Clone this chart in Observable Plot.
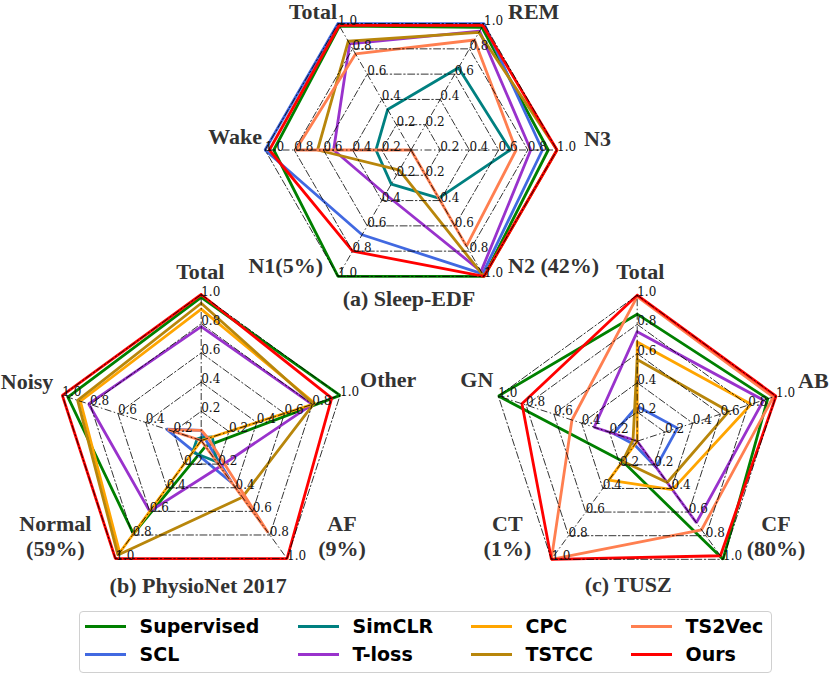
<!DOCTYPE html>
<html><head><meta charset="utf-8">
<script src="https://cdn.jsdelivr.net/npm/d3@7"></script>
<script src="https://cdn.jsdelivr.net/npm/@observablehq/plot@0.6"></script>
<style>
body{margin:0;background:#fff;}
#fig{position:relative;width:831px;height:677px;overflow:hidden;}
#fig svg{position:absolute;left:0;top:0;}
#legend{position:absolute;left:79px;top:611px;width:693px;height:62px;border:1.5px solid #d0d0d0;border-radius:4px;box-sizing:border-box;}
.li{position:absolute;height:3px;}
.lt{position:absolute;font:bold 19px "DejaVu Sans";color:#000;line-height:19px;white-space:nowrap;}
</style>
</head><body><div id="fig"><div id="legend"></div></div>
<script>
// ---------------- data ----------------
const methods = ["Supervised","SCL","SimCLR","T-loss","CPC","TSTCC","TS2Vec","Ours"];
const colors  = ["#008000","#4169e1","#008080","#9932cc","#ffa500","#b8860b","#ff7f50","#ff0000"];
const ticks = [0.2, 0.4, 0.6, 0.8, 1.0];
const tickLabels = ["0.2","0.4","0.6","0.8","1.0"];

// (a) Sleep-EDF
const sleepAxes = ["Total","REM","N3","N2 (42%)","N1(5%)","Wake"];
const sleepSupervised = [0.98, 0.97, 0.94, 1.00, 1.00, 0.94];
const sleepSCL        = [1.00, 1.00, 0.90, 0.98, 0.67, 1.00];
const sleepSimCLR     = [0.32, 0.65, 0.68, 0.38, 0.27, 0.24];
const sleepTloss      = [0.84, 0.94, 0.82, 0.96, 0.35, 0.53];
const sleepCPC        = null;
const sleepTSTCC      = [0.86, 0.93, 1.00, 1.00, 0.16, 0.64];
const sleepTS2Vec     = [0.76, 0.87, 0.72, 0.76, 0.00, 0.79];
const sleepOurs       = [0.985, 0.985, 1.00, 1.00, 0.80, 0.97];

// (b) PhysioNet 2017
const physioAxes = ["Total","Other","AF\n(9%)","Normal\n(59%)","Noisy"];
const physioSupervised = [0.98, 1.00, 0.05, 0.79, 0.96];
const physioSCL        = [0.07, 0.03, 0.36, 0.09, 0.25];
const physioSimCLR     = [0.02, 0.08, 0.18, 0.10, 0.03];
const physioTloss      = [0.78, 0.80, 0.22, 0.60, 0.81];
const physioCPC        = [0.90, 0.82, 0.00, 0.95, 0.87];
const physioTSTCC      = [0.94, 0.81, 0.48, 0.97, 0.89];
const physioTS2Vec     = [0.07, 0.05, 0.78, 0.00, 0.24];
const physioOurs       = [1.00, 0.94, 1.00, 1.00, 1.00];

// (c) TUSZ
const tuszAxes = ["Total","AB","CF\n(80%)","CT\n(1%)","GN"];
const tuszSupervised = [0.87, 0.94, 1.00, 0.17, 1.00];
const tuszSCL        = [0.24, 0.29, 0.22, 0.03, 0.17];
const tuszSimCLR     = null;
const tuszTloss      = [0.75, 0.91, 0.69, 0.00, 0.31];
const tuszCPC        = [0.68, 0.82, 0.41, 0.33, 0.00];
const tuszTSTCC      = [0.56, 0.66, 0.35, 0.17, 0.03];
const tuszTS2Vec     = [0.99, 0.98, 0.75, 1.00, 0.47];
const tuszOurs       = [1.00, 1.00, 0.97, 1.00, 0.83];

// ---------------- layout ----------------
const R = 146, FIG_W = 831, FIG_H = 600;
const dash = "7,2.5,1.5,2.5";
const charts = [
  {title:"(a) Sleep-EDF", axes:sleepAxes, start:120,
   series:[sleepSupervised,sleepSCL,sleepSimCLR,sleepTloss,sleepCPC,sleepTSTCC,sleepTS2Vec,sleepOurs],
   cx:410.5, cy:149.5, titleOff:[-2,155.5],
   labels:[["end",-1,-5],["start",24,-5],["start",27,-4],["start",24,-3],["end",-15,-3],["end",-3,-6]]},
  {title:"(b) PhysioNet 2017", axes:physioAxes, start:90,
   series:[physioSupervised,physioSCL,physioSimCLR,physioTloss,physioCPC,physioTSTCC,physioTS2Vec,physioOurs],
   cx:200.7, cy:440, titleOff:[-3,152],
   labels:[["middle",-1,-16],["start",20,-8],["middle",55,-3],["middle",-60,-3],["end",-9,-6]]},
  {title:"(c) TUSZ", axes:tuszAxes, start:90,
   series:[tuszSupervised,tuszSCL,tuszSimCLR,tuszTloss,tuszCPC,tuszTSTCC,tuszTS2Vec,tuszOurs],
   cx:636.7, cy:440.7, titleOff:[-9,151],
   labels:[["middle",3,-16],["start",22,-8],["middle",53,-3],["middle",-44,-3],["end",-5,-9]]}
];

const fig = document.getElementById("fig");

charts.forEach(cfg => {
  const n = cfg.axes.length;
  const ang = cfg.axes.map((_, i) => (cfg.start - i * 360 / n) * Math.PI / 180);
  const rows = [];
  cfg.series.forEach((vals, k) => {
    if (!vals) return;
    for (let i = 0; i <= n; i++) {
      const j = i % n;
      rows.push({method: methods[k], x: vals[j] * Math.cos(ang[j]), y: vals[j] * Math.sin(ang[j])});
    }
  });
  const rings = [];
  ticks.forEach(t => { for (let i = 0; i <= n; i++) { const j = i % n; rings.push({level: t, x: t * Math.cos(ang[j]), y: t * Math.sin(ang[j])}); } });
  const spokes = ang.map(a => ({x: Math.cos(a), y: Math.sin(a)}));
  const tickRows = [];
  ticks.forEach((t, ti) => ang.forEach(a => tickRows.push({x: t * Math.cos(a), y: t * Math.sin(a), label: tickLabels[ti]})));

  const marks = [
    Plot.line(rows, {x: "x", y: "y", z: "method", stroke: "method", strokeWidth: 2.8, strokeLinejoin: "miter"}),
    Plot.line(rings, {x: "x", y: "y", z: "level", stroke: "#000", strokeWidth: 0.8, strokeDasharray: dash}),
    Plot.link(spokes, {x1: 0, y1: 0, x2: "x", y2: "y", stroke: "#000", strokeWidth: 0.8, strokeDasharray: dash}),
    Plot.text(tickRows, {x: "x", y: "y", text: "label", textAnchor: "start", lineAnchor: "bottom", dy: 1,
      fontFamily: "DejaVu Serif", fontSize: 12, fill: "#111"})
  ];
  cfg.axes.forEach((lab, i) => {
    const [anchor, dx, dy] = cfg.labels[i];
    marks.push(Plot.text([{x: Math.cos(ang[i]), y: Math.sin(ang[i]), t: lab}], {
      x: "x", y: "y", text: "t", textAnchor: anchor, lineAnchor: "bottom", dx, dy, lineHeight: 1.14,
      fontFamily: "Liberation Serif", fontSize: 22, fontWeight: "bold", fill: "#333"}));
  });
  marks.push(Plot.text([{x: 0, y: 0, t: cfg.title}], {x: "x", y: "y", text: "t", textAnchor: "middle", lineAnchor: "bottom",
    dx: cfg.titleOff[0], dy: cfg.titleOff[1], fontFamily: "Liberation Serif", fontSize: 22, fontWeight: "bold", fill: "#333"}));

  const svg = Plot.plot({
    width: FIG_W, height: FIG_H, marginTop: 0, marginRight: 0, marginBottom: 0, marginLeft: 0,
    x: {domain: [-cfg.cx / R, (FIG_W - cfg.cx) / R], axis: null},
    y: {domain: [-(FIG_H - cfg.cy) / R, cfg.cy / R], axis: null},
    color: {domain: methods, range: colors},
    style: {background: "transparent", overflow: "visible"},
    marks
  });
  fig.appendChild(svg);
});

// legend (column-major, 4 columns x 2 rows)
const legend = document.getElementById("legend");
const colX = [85, 298, 471, 631], rowY = [627, 655];
methods.forEach((m, k) => {
  const c = Math.floor(k / 2), r = k % 2;
  const line = document.createElement("div");
  line.className = "li";
  line.style.cssText = `left:${colX[c] - 79 - 1.5}px;top:${rowY[r] - 611 - 1.5 - 1.5}px;width:41px;background:${colors[k]}`;
  legend.appendChild(line);
  const t = document.createElement("div");
  t.className = "lt";
  t.textContent = m;
  t.style.cssText = `left:${colX[c] + 55 - 79 - 1.5}px;top:${rowY[r] - 611 - 1.5 - 10}px`;
  legend.appendChild(t);
});
</script>
</body></html>
